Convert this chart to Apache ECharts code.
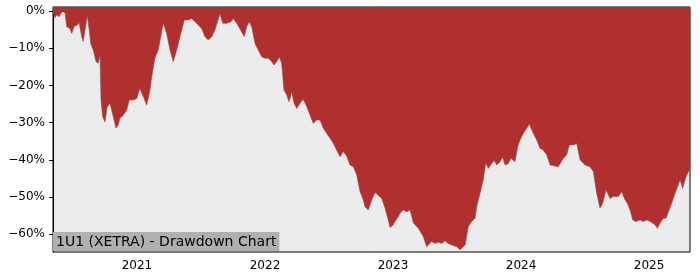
<!DOCTYPE html>
<html>
<head>
<meta charset="utf-8">
<script src="https://cdn.jsdelivr.net/npm/echarts@6/dist/echarts.min.js"></script>
<style>html,body{margin:0;padding:0;background:#fff}#c{width:700px;height:280px}</style>
</head>
<body>
<div id="c"></div>
<script>
// Time as decimal years, drawdown in percent
const years = [
2020.344,2020.359,2020.375,2020.391,2020.406,2020.422,2020.438,2020.451,2020.477,2020.490,
2020.508,2020.529,2020.549,2020.568,2020.580,2020.594,2020.612,2020.627,2020.638,2020.659,
2020.680,2020.698,2020.711,2020.719,2020.732,2020.750,2020.768,2020.789,2020.815,2020.836,
2020.854,2020.867,2020.893,2020.920,2020.940,2020.971,2020.998,2021.023,2021.049,2021.076,
2021.102,2021.115,2021.141,2021.166,2021.180,2021.205,2021.232,2021.258,2021.284,2021.310,
2021.336,2021.370,2021.401,2021.427,2021.466,2021.505,2021.531,2021.557,2021.584,2021.609,
2021.648,2021.670,2021.701,2021.734,2021.752,2021.779,2021.818,2021.838,2021.857,2021.877,
2021.896,2021.922,2021.948,2021.974,2022.000,2022.026,2022.052,2022.070,2022.091,2022.112,
2022.130,2022.148,2022.170,2022.188,2022.209,2022.227,2022.248,2022.273,2022.299,2022.326,
2022.352,2022.377,2022.404,2022.430,2022.455,2022.482,2022.508,2022.534,2022.560,2022.586,
2022.612,2022.638,2022.664,2022.690,2022.716,2022.742,2022.768,2022.781,2022.807,2022.834,
2022.859,2022.883,2022.912,2022.938,2022.961,2022.977,2023.002,2023.016,2023.041,2023.055,
2023.080,2023.107,2023.133,2023.159,2023.172,2023.198,2023.211,2023.237,2023.263,2023.276,
2023.302,2023.328,2023.354,2023.380,2023.406,2023.430,2023.459,2023.498,2023.523,2023.563,
2023.588,2023.615,2023.641,2023.654,2023.680,2023.705,2023.724,2023.745,2023.771,2023.789,
2023.810,2023.836,2023.857,2023.875,2023.901,2023.920,2023.953,2023.974,2023.992,2024.018,
2024.045,2024.065,2024.096,2024.123,2024.148,2024.174,2024.201,2024.227,2024.266,2024.291,
2024.330,2024.357,2024.377,2024.409,2024.435,2024.461,2024.500,2024.539,2024.565,2024.591,
2024.617,2024.638,2024.664,2024.695,2024.721,2024.760,2024.787,2024.807,2024.830,2024.852,
2024.873,2024.898,2024.930,2024.955,2024.982,2025.008,2025.029,2025.047,2025.065,2025.086,
2025.112,2025.133,2025.151,2025.177,2025.203,2025.224,2025.242,2025.263,2025.284,2025.307,
2025.320
];
const drawdown = [
-0.5,-1.8,-1.0,-1.5,-0.6,0,-0.6,-4.2,-4.7,-6.0,
-4.2,-3.8,-3.3,-6.9,-8.2,-5.1,-1.3,-5.1,-8.7,-10.5,
-13.6,-14.0,-11.8,-23.9,-28.4,-29.8,-25.7,-24.8,-28.4,-31.5,
-30.6,-28.8,-28.0,-26.6,-23.9,-23.9,-23.5,-20.8,-23.0,-25.3,
-21.2,-17.7,-12.5,-10.5,-8.0,-3.3,-6.0,-10.5,-13.6,-10.5,
-6.9,-2.4,-2.4,-2.0,-3.3,-4.7,-6.9,-7.8,-6.9,-5.1,
-0.8,-3.3,-3.3,-2.9,-2.0,-3.3,-5.6,-6.9,-4.2,-2.9,
-4.2,-8.7,-10.5,-12.3,-12.7,-12.7,-13.6,-14.5,-13.6,-12.4,
-14.0,-21.2,-22.6,-24.4,-21.7,-24.8,-26.2,-24.8,-23.7,-25.7,
-28.0,-30.2,-29.3,-29.3,-31.5,-32.9,-34.2,-35.6,-37.4,-39.2,
-37.8,-39.0,-41.4,-41.9,-44.0,-48.5,-50.8,-52.6,-53.5,-50.8,
-48.8,-49.5,-50.4,-53.0,-56.0,-58.2,-57.5,-56.6,-55.3,-54.4,
-53.5,-54.0,-53.5,-57.0,-56.6,-58.4,-58.9,-60.7,-63.4,-63.4,
-62.0,-62.5,-62.2,-62.5,-61.8,-62.5,-62.9,-63.4,-64.2,-62.9,
-58.0,-56.6,-55.7,-52.6,-49.0,-45.4,-40.9,-42.3,-41.0,-40.2,
-41.4,-40.5,-39.3,-41.4,-41.0,-39.6,-40.5,-36.5,-34.7,-32.9,
-31.5,-30.4,-32.9,-34.7,-36.9,-37.4,-38.7,-41.4,-41.7,-41.9,
-39.6,-38.7,-36.0,-36.0,-35.6,-40.0,-41.4,-41.9,-43.2,-49.0,
-53.0,-51.7,-48.1,-50.4,-49.9,-49.9,-48.6,-50.4,-51.7,-53.5,
-56.2,-56.6,-56.2,-56.6,-56.2,-56.6,-57.1,-57.5,-58.4,-57.1,
-55.7,-55.7,-54.0,-51.7,-49.0,-47.2,-45.4,-47.7,-45.0,-43.2,
-42.5
];
const xTicks = [2021, 2022, 2023, 2024, 2025];
const yTicks = [-60, -50, -40, -30, -20, -10, 0];
const chartTitle = '1U1 (XETRA) - Drawdown Chart';

const chart = echarts.init(document.getElementById('c'), null, {renderer: 'canvas'});
const font = 'DejaVu Sans';
chart.setOption({
  animation: false,
  grid: {left: 53, right: 10, top: 7, bottom: 28, show: true, backgroundColor: '#ececec', borderColor: '#000', borderWidth: 1},
  title: {
    text: chartTitle, left: 53, top: 232,
    padding: [2, 3, 1, 3],
    backgroundColor: '#b0b0b0',
    textStyle: {fontFamily: font, fontSize: 14, fontWeight: 'normal', color: '#000', lineHeight: 16}
  },
  xAxis: {
    type: 'value', min: 2020.344, max: 2025.320,
    axisLine: {show: true, lineStyle: {color: '#000', width: 1}},
    axisTick: {show: true, customValues: xTicks, length: 4, lineStyle: {color: '#000'}},
    axisLabel: {customValues: xTicks, color: '#000', fontFamily: font, fontSize: 12, margin: 8, formatter: v => String(Math.round(v))},
    splitLine: {show: false}
  },
  yAxis: {
    type: 'value', min: -64.8, max: 1.1,
    axisLine: {show: true, lineStyle: {color: '#000', width: 1}},
    axisTick: {show: true, customValues: yTicks, length: 4, lineStyle: {color: '#000'}},
    axisLabel: {customValues: yTicks, color: '#000', fontFamily: font, fontSize: 12, margin: 8,
      formatter: v => (v < 0 ? '\u2212' + Math.abs(Math.round(v)) : Math.round(v)) + '%'},
    splitLine: {show: false}
  },
  series: [{
    type: 'line',
    data: years.map((y, i) => [y, drawdown[i]]),
    showSymbol: false,
    lineStyle: {color: '#7a5a5a', width: 0.6},
    areaStyle: {origin: 'end', color: '#b03030', opacity: 1},
    z: 1
  }]
});
</script>
</body>
</html>
